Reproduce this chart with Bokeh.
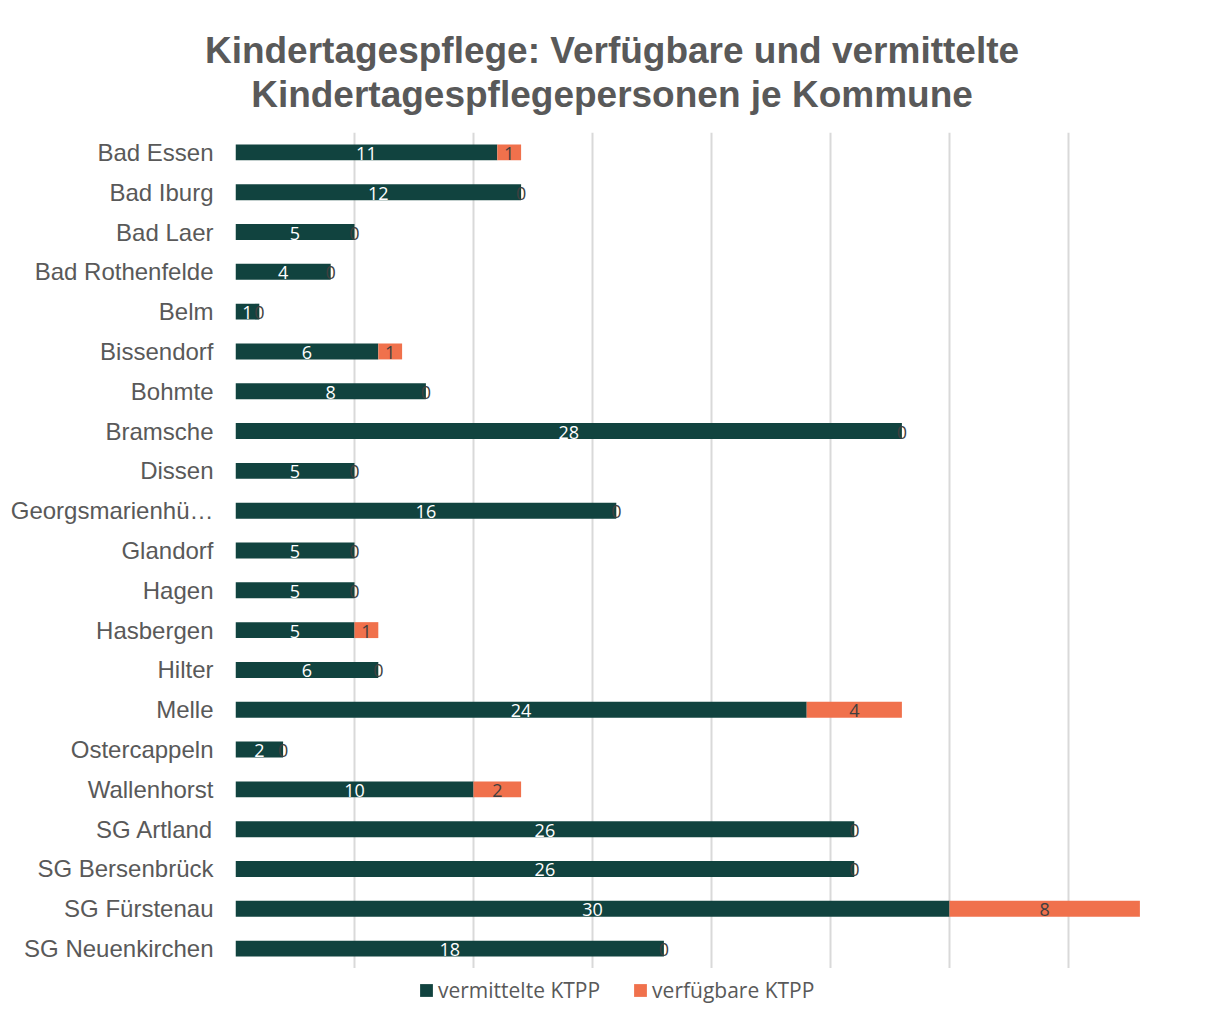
from bokeh.plotting import figure
from bokeh.models import ColumnDataSource, FactorRange, Range1d, Legend, LegendItem, FixedTicker, Div
from bokeh.layouts import column
from bokeh.core.properties import value
from bokeh.embed import file_html
from bokeh.resources import INLINE

title_lines = ["Kindertagespflege: Verfügbare und vermittelte",
               "Kindertagespflegepersonen je Kommune"]
communes = ["Bad Essen", "Bad Iburg", "Bad Laer", "Bad Rothenfelde", "Belm", "Bissendorf",
            "Bohmte", "Bramsche", "Dissen", "Georgsmarienhü…", "Glandorf", "Hagen",
            "Hasbergen", "Hilter", "Melle", "Ostercappeln", "Wallenhorst", "SG Artland",
            "SG Bersenbrück", "SG Fürstenau", "SG Neuenkirchen"]
vermittelt = [11, 12, 5, 4, 1, 6, 8, 28, 5, 16, 5, 5, 5, 6, 24, 2, 10, 26, 26, 30, 18]
verfuegbar = [1, 0, 0, 0, 0, 1, 0, 0, 0, 0, 0, 0, 1, 0, 4, 0, 2, 0, 0, 8, 0]
series = ["vermittelte KTPP", "verfügbare KTPP"]
x_ticks = [0, 5, 10, 15, 20, 25, 30, 35, 40]

GREEN = "#11433f"
ORANGE = "#f0714c"
GRAY = "#595959"

src = ColumnDataSource(dict(
    c=communes, v=vermittelt, f=verfuegbar,
    tot=[a + b for a, b in zip(vermittelt, verfuegbar)],
    vc=[a / 2 for a in vermittelt],
    fc=[a + b / 2 for a, b in zip(vermittelt, verfuegbar)],
    vl=[str(a) for a in vermittelt],
    fl=[str(b) for b in verfuegbar],
))

# ---- title ----
title_html = (
    '<div style="width:1212px;height:132px;box-sizing:border-box;padding-top:29px;padding-left:12px;'
    'text-align:center;font-family:\'Liberation Sans\',Arial,sans-serif;font-weight:bold;'
    'font-size:37px;line-height:44px;color:%s;white-space:nowrap;">%s<br>%s</div>'
    % (GRAY, title_lines[0], title_lines[1])
)
title_div = Div(text=title_html, width=1212, height=132, margin=0)

# ---- main plot ----
p = figure(frame_width=952, frame_height=836, output_backend="svg", toolbar_location=None,
           y_range=FactorRange(factors=list(reversed(communes)), range_padding=0),
           x_range=Range1d(0, 40), x_axis_location=None,
           min_border_left=235, min_border_right=25, min_border_top=0, min_border_bottom=0)
p.outline_line_color = None
p.background_fill_color = "white"
p.border_fill_color = "white"

r1 = p.hbar(y="c", left=0, right="v", height=0.4, source=src, fill_color=GREEN, line_color=None)
r2 = p.hbar(y="c", left="v", right="tot", height=0.4, source=src, fill_color=ORANGE, line_color=None)

p.text(x="vc", y="c", text="vl", source=src, text_color="white", text_align="center",
       text_baseline="middle", text_font=value("Open Sans"), text_font_size="18px", y_offset=1)
p.text(x="fc", y="c", text="fl", source=src, text_color="#404040", text_align="center",
       text_baseline="middle", text_font=value("Open Sans"), text_font_size="18px", y_offset=1)

p.xgrid.ticker = FixedTicker(ticks=x_ticks)
p.xgrid.grid_line_color = "#d9d9d9"
p.xgrid.grid_line_width = 2
p.ygrid.grid_line_color = None

p.yaxis.axis_line_color = None
p.yaxis.major_tick_line_color = None
p.yaxis.minor_tick_line_color = None
p.yaxis.major_tick_out = 0
p.yaxis.major_label_standoff = 22
p.yaxis.major_label_text_font = "Liberation Sans"
p.yaxis.major_label_text_font_size = "24px"
p.yaxis.major_label_text_color = GRAY

# ---- legend strip ----
lg = figure(frame_width=1212, frame_height=55, output_backend="svg", toolbar_location=None,
            x_range=Range1d(0, 1212), y_range=Range1d(0, 55),
            x_axis_location=None, y_axis_location=None,
            min_border_left=0, min_border_right=0, min_border_top=0, min_border_bottom=0)
lg.outline_line_color = None
lg.xgrid.visible = False
lg.ygrid.visible = False
# proxy renderers (outside the visible range) that only supply the legend swatches
d1 = lg.hbar(y=[-100], left=[0], right=[1], height=1, fill_color=GREEN, line_color=None)
d2 = lg.hbar(y=[-100], left=[0], right=[1], height=1, fill_color=ORANGE, line_color=None)

legend = Legend(items=[LegendItem(label=series[0], renderers=[d1]),
                       LegendItem(label=series[1], renderers=[d2])],
                orientation="horizontal", location=(418, 19), border_line_color=None,
                background_fill_alpha=0, glyph_width=16, glyph_height=16, label_standoff=4,
                spacing=32, padding=0, margin=0,
                label_text_font="Open Sans", label_text_font_size="21px", label_text_color=GRAY)
lg.add_layout(legend, "center")

layout = column(title_div, p, lg, spacing=0)
open("out.html", "w").write(file_html(layout, INLINE))
